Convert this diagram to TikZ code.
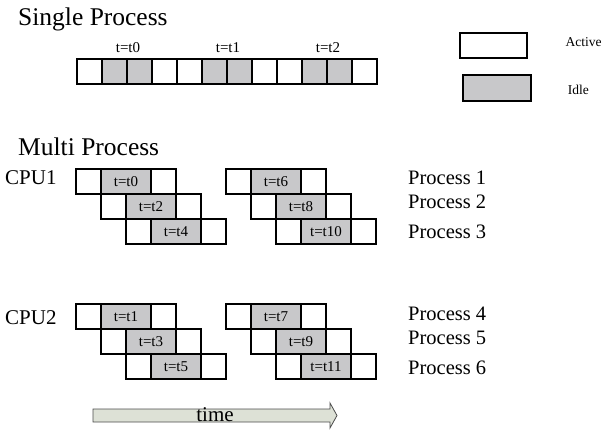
\documentclass[tikz,border=0pt]{standalone}
\usepackage{fontspec}
\setmainfont{Liberation Serif}
\usetikzlibrary{matrix, positioning}
\definecolor{idlegray}{RGB}{200,200,202}
\definecolor{timefill}{RGB}{221,225,214}

\begin{document}
\begin{tikzpicture}[x=1pt, y=-1pt,
    cell/.style={draw, line width=1.8pt, minimum width=25pt, minimum height=25pt, inner sep=0pt},
    idle/.style={cell, fill=idlegray},
    slot/.style={idle, minimum width=50pt, font=\fontsize{15}{15}\selectfont},
    title/.style={font=\fontsize{25.5}{30}\selectfont, anchor=base west, inner sep=0pt},
    proc/.style={font=\fontsize{20.5}{24}\selectfont, anchor=base west, inner sep=0pt},
    tlabel/.style={font=\fontsize{15}{15}\selectfont, anchor=base, inner sep=0pt},
    legendbox/.style={draw, line width=2pt, minimum width=67pt, minimum height=25pt, inner sep=0pt},
    legendtxt/.style={font=\fontsize{13.5}{16}\selectfont, anchor=base west, inner sep=0pt}
  ]
  \useasboundingbox (0,0) rectangle (613,430);

  \node[title] (single title) at (18,26) {Single Process};
  \node[title] (multi title) at (18,156) {Multi Process};

  % one cpu, one process
  \matrix (single) [matrix of nodes, nodes in empty cells, anchor=north west, inner sep=0pt,
                    column sep=-1.8pt, nodes={cell}] at (76,58) {
    & |[idle]| & |[idle]| & & & |[idle]| & |[idle]| & & & |[idle]| & |[idle]| & \\
  };
  \foreach \c/\n in {2/0,6/1,10/2}
    \node[tlabel] (single lbl\n) at ([yshift=6pt]single-1-\c.north east) {t=t\n};

  % legend
  \node[legendbox] (active) at (493.5,45.5) {};
  \node[legendbox, fill=idlegray, minimum width=68pt, minimum height=26pt] (idle) at (497,88) {};
  \node[legendtxt] (active lbl) at (565.5,46.7) {Active};
  \node[legendtxt] (idle lbl) at (567.7,95) {Idle};

  % two cpus, three processes each
  \node[proc, font=\fontsize{21}{24}\selectfont] (cpu1) at (5,185) {CPU1};
  \node[proc, font=\fontsize{21}{24}\selectfont] (cpu2) at (5,324) {CPU2};
  \foreach \g/\y in {0/169,1/304}
    \foreach \b/\x in {0/76,1/226}
      \foreach \r in {0,1,2} {
        \pgfmathtruncatemacro\n{6*\b+2*\r+\g}
        \node[cell] (p\g\b\r-a) at (\x+25*\r+12.5,\y+25*\r+12.5) {};
        \node[slot, right=-1.8pt of p\g\b\r-a] (p\g\b\r-b) {t=t\n};
        \node[cell, right=-1.8pt of p\g\b\r-b] (p\g\b\r-c) {};
      }
  \foreach \k/\yb in {1/185,2/209,3/239,4/320,5/344,6/374}
    \node[proc] (proc\k) at (408,\yb) {Process \k};

  % time arrow
  \draw[fill=timefill, line width=0.8pt, draw=black!70]
    (93,409) -- (330,409) -- (330,403) -- (337,415.5) -- (330,428) -- (330,422) -- (93,422) -- cycle;
  \node[font=\fontsize{21}{24}\selectfont, anchor=base, inner sep=0pt] (time) at (215,421.5) {time};
\end{tikzpicture}
\end{document}
